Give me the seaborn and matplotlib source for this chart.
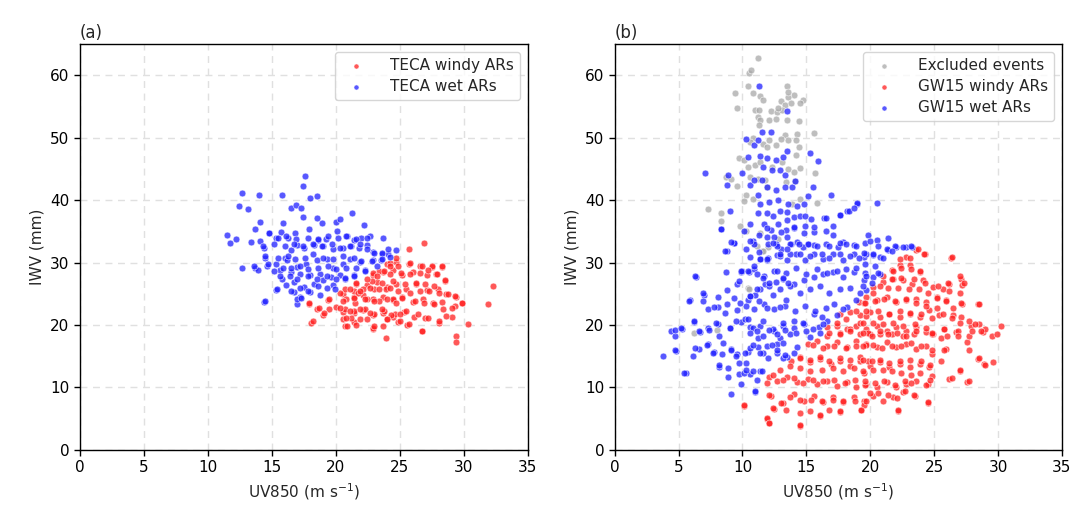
import numpy as np
import pandas as pd
import matplotlib
matplotlib.use("Agg")
import matplotlib.pyplot as plt
import seaborn as sns

# ---------------- Panel (a): TECA ----------------
teca_wet_x = [17.6, 17.4, 12.7, 14.0, 15.8, 18.0, 18.5, 12.4, 13.1, 16.5, 16.9, 17.3, 21.3, 14.1,
              15.9, 17.4, 18.5, 18.9, 20.0, 20.3, 22.2, 13.7, 11.5, 11.7, 12.2, 13.4, 14.1, 14.4,
              14.8, 15.3, 15.7, 16.3, 16.8, 17.9, 18.6, 19.2, 20.1, 20.9, 21.4, 22.0, 22.7, 23.7,
              12.7, 13.7, 13.9, 14.5, 14.6, 15.3, 15.6, 16.0, 16.5, 17.0, 17.5, 18.3, 19.0, 19.8,
              20.6, 21.2, 21.8, 22.4, 22.9, 23.6, 24.1, 24.7, 22.9, 23.5, 24.2, 16.2, 17.0, 17.7,
              18.5, 19.3, 19.8, 20.6, 21.1, 21.9, 22.3, 20.3, 19.6, 18.8, 18.0, 17.2, 16.5, 15.8,
              16.1, 15.3, 16.7, 17.5, 18.3, 19.0, 19.8, 20.7, 21.4, 16.7, 17.2, 18.0, 18.8, 17.0,
              14.4]
teca_wet_y = [43.85, 42.3, 41.2, 40.8, 40.9, 40.3, 40.6, 39.0, 38.5, 38.7, 39.2, 38.7, 38.0, 36.5,
              36.3, 37.3, 37.2, 36.4, 36.5, 36.9, 36.0, 35.3, 34.4, 33.2, 33.7, 33.3, 33.5, 32.4,
              34.8, 33.9, 34.9, 33.9, 34.8, 35.3, 33.6, 33.7, 35.1, 34.2, 33.6, 34.0, 34.3, 34.0,
              29.1, 29.2, 28.8, 30.8, 29.4, 29.7, 28.8, 30.8, 32.0, 32.8, 32.4, 32.8, 32.6, 32.2,
              32.4, 32.6, 32.4, 32.8, 31.7, 31.4, 31.3, 32.0, 30.4, 30.4, 30.9, 30.4, 29.3, 29.8,
              30.4, 30.6, 29.2, 29.8, 30.6, 30.1, 28.8, 28.0, 27.7, 28.2, 28.0, 28.2, 28.5, 27.4,
              26.4, 25.6, 26.9, 26.1, 26.6, 27.2, 26.4, 27.4, 28.0, 25.3, 24.5, 25.3, 24.8, 23.4,
              23.7]
teca_wet_x_more = [14.8, 15.5, 16.1, 16.9, 17.8, 18.6, 19.4, 20.2, 20.8, 21.6, 22.4, 14.3, 15.2, 16.0,
                   16.7, 17.4, 18.2, 18.9, 19.7, 20.3, 21.1, 21.9, 22.4, 23.0, 23.6, 24.1, 14.5, 15.5,
                   16.3, 16.8, 17.6, 18.2, 19.0, 19.8, 20.6, 21.4, 22.0, 22.8, 23.6, 23.2, 13.6, 14.7,
                   15.2, 15.9, 16.5, 17.2, 17.8, 18.6, 19.4, 20.0, 20.8, 21.6, 22.3, 15.6, 16.4, 17.0,
                   17.8, 18.5, 19.3, 20.0, 20.7, 21.4, 15.4, 16.5, 17.2, 17.8, 18.6, 19.3, 19.9, 17.0,
                   17.3, 14.5]
teca_wet_y_more = [34.8, 34.0, 34.2, 33.7, 34.0, 33.8, 34.2, 34.0, 34.2, 33.7, 34.0, 32.7, 33.0, 32.7,
                   33.0, 32.7, 33.0, 32.7, 33.0, 32.4, 32.7, 33.0, 32.1, 31.6, 31.5, 32.1, 31.0, 30.7,
                   31.0, 30.5, 30.7, 31.3, 30.7, 30.5, 31.0, 30.7, 30.2, 30.2, 30.5, 29.4, 29.4, 29.7,
                   28.6, 29.2, 29.2, 29.4, 28.9, 29.2, 29.4, 28.9, 29.2, 29.2, 28.6, 27.8, 27.8, 27.3,
                   27.8, 27.3, 27.8, 27.3, 27.5, 27.8, 25.7, 25.4, 25.9, 25.4, 26.2, 25.9, 25.7, 24.1,
                   24.4, 23.8]

teca_windy_x = [26.9, 25.7, 24.0, 24.7, 25.7, 26.6, 27.5, 28.3, 22.9, 23.7, 24.5, 25.2, 26.0, 27.1,
                27.8, 28.5, 32.3, 31.9, 21.6, 22.4, 23.2, 24.0, 24.7, 25.5, 26.3, 27.1, 28.0, 28.6,
                29.4, 29.9, 29.3, 20.6, 21.4, 22.1, 22.9, 23.7, 24.5, 25.2, 26.0, 26.8, 27.6, 28.3,
                17.9, 19.4, 20.0, 19.5, 18.5, 19.0, 18.1, 20.6, 21.4, 22.1, 22.9, 23.7, 24.5, 25.3,
                26.1, 27.0, 28.1, 29.1, 30.3, 20.6, 20.7, 21.4, 22.9, 23.7, 24.9, 25.6, 26.7, 23.9,
                29.4, 29.4]
teca_windy_y = [33.2, 32.2, 29.8, 30.1, 29.7, 29.4, 29.3, 29.3, 28.0, 28.5, 28.8, 28.0, 28.5, 28.0,
                28.1, 27.1, 26.2, 23.4, 26.5, 26.4, 26.9, 26.1, 26.5, 25.8, 26.5, 25.6, 25.8, 25.0,
                24.5, 23.5, 23.0, 25.0, 24.5, 24.8, 24.2, 24.5, 24.0, 24.5, 23.7, 24.2, 23.5, 23.7,
                23.4, 24.0, 22.9, 22.6, 22.6, 21.6, 20.4, 22.1, 21.9, 22.4, 21.6, 21.9, 21.3, 22.1,
                21.3, 21.2, 20.4, 21.3, 20.2, 20.9, 19.8, 20.5, 19.4, 19.9, 20.5, 20.0, 19.0, 17.9,
                18.3, 17.3]
teca_windy_x_more = [24.2, 24.9, 25.8, 26.7, 27.5, 28.3, 23.4, 24.2, 25.1, 25.8, 26.6, 27.2, 27.9, 28.5,
                     22.9, 22.8, 23.6, 24.5, 25.4, 26.3, 27.0, 27.7, 21.6, 20.7, 21.4, 22.1, 23.0, 23.9,
                     24.9, 25.8, 26.6, 27.3, 28.1, 28.8, 29.3, 29.9, 20.8, 21.5, 22.4, 23.4, 24.5, 25.2,
                     26.2, 26.9, 27.7, 28.4, 29.1, 20.7, 21.4, 22.3, 23.0, 23.8, 24.6, 25.5, 26.4, 27.2,
                     28.1, 28.6, 21.2, 21.9, 22.9, 24.0, 25.0, 25.7, 26.7, 20.9, 21.7, 22.4, 23.2, 23.8,
                     24.2, 24.7, 20.3, 21.1, 21.9, 22.7, 23.4, 24.2, 19.5, 20.6, 21.4, 22.3, 23.0, 24.0,
                     24.7, 17.9, 18.7, 19.1, 20.3, 21.1, 21.9, 22.7, 23.6, 24.3, 18.2, 20.8, 21.6, 22.4,
                     23.0, 24.0, 25.0]
teca_windy_y_more = [30.0, 29.4, 30.0, 29.4, 29.5, 29.4, 28.6, 28.1, 28.3, 28.1, 28.3, 28.8, 28.1, 27.2,
                     28.3, 27.0, 26.7, 27.0, 26.5, 26.7, 26.5, 26.2, 26.7, 25.7, 25.4, 25.7, 25.7, 25.7,
                     25.4, 25.1, 25.4, 25.4, 25.1, 24.9, 24.6, 23.6, 24.1, 23.5, 24.1, 23.8, 24.1, 24.3,
                     23.8, 23.5, 23.3, 22.5, 22.7, 22.5, 22.2, 22.5, 21.7, 22.2, 21.7, 22.2, 21.7, 21.1,
                     20.6, 21.4, 21.1, 20.9, 19.5, 20.9, 20.6, 20.1, 19.1, 19.9, 25.1, 27.3, 27.8, 28.6,
                     29.4, 30.7, 25.1, 25.7, 25.4, 25.9, 25.7, 25.9, 24.1, 23.8, 24.4, 24.1, 23.8, 24.1,
                     23.5, 23.6, 22.7, 21.9, 22.7, 22.2, 22.5, 21.9, 22.5, 21.6, 20.6, 21.1, 20.0, 20.9,
                     19.8, 20.9, 21.7]

# ---------------- Panel (b): GW15 ----------------
excl_x = [11.2, 10.5, 10.7, 9.4, 10.4, 10.8, 11.4, 11.6, 13.5, 14.0, 13.6, 13.6, 14.7, 14.5,
          13.0, 13.3, 13.8, 9.6, 11.0, 11.3, 12.2, 12.7, 13.1, 12.8, 11.2, 11.4, 12.1, 12.6,
          13.5, 14.4, 11.3, 15.6, 14.3, 13.3, 13.6, 13.0, 12.6, 12.1, 10.8, 10.6, 11.6, 11.9,
          14.2, 14.4, 9.7, 10.1, 14.2, 10.4, 11.0, 11.4, 12.3, 13.1, 13.6, 14.5, 14.0, 8.7,
          9.1, 15.7, 11.2, 10.6, 11.8, 13.4, 14.1, 9.6, 10.3, 10.1, 10.8, 11.9, 13.9, 14.5,
          15.8, 7.3, 8.3, 8.3, 9.8, 11.4, 10.3, 12.0, 12.8, 8.0, 10.9, 11.5, 10.4, 6.2,
          10.5, 11.1, 11.6]
excl_y = [62.8, 60.3, 60.8, 57.2, 58.2, 57.1, 56.6, 56.0, 58.3, 56.8, 56.5, 57.3, 56.0, 55.6,
          55.9, 55.3, 55.5, 54.7, 54.5, 54.5, 54.3, 54.1, 54.5, 54.8, 53.3, 52.9, 52.9, 53.0,
          52.8, 52.6, 52.1, 50.8, 50.6, 50.4, 49.7, 49.8, 48.8, 49.6, 49.9, 49.3, 49.0, 48.5,
          49.6, 48.5, 46.7, 46.5, 47.3, 45.3, 45.6, 46.1, 45.3, 46.1, 45.0, 45.2, 44.5, 43.7,
          43.4, 44.3, 43.4, 43.7, 43.2, 42.9, 43.0, 42.2, 40.9, 39.9, 40.1, 42.1, 39.4, 40.2,
          39.6, 38.5, 37.9, 36.6, 35.8, 34.8, 35.1, 32.5, 33.8, 19.2, 33.0, 31.8, 25.9, 18.7,
          25.8, 32.7, 31.8]

gw_wet_x = [11.3, 13.5, 10.3, 10.9, 11.2, 11.5, 12.2, 15.3, 15.9, 7.1, 8.9, 8.8, 10.0, 10.4,
            11.4, 11.9, 12.6, 13.2, 13.5, 11.6, 12.3, 12.9, 13.3, 10.6, 10.9, 11.5, 11.9, 12.6,
            13.3, 13.9, 14.1, 15.5, 15.1, 16.9, 9.0, 8.3, 11.2, 11.4, 12.1, 12.8, 13.6, 14.3,
            14.8, 12.9, 12.4, 11.9, 11.2, 10.6, 10.1, 13.5, 14.0, 14.5, 14.9, 15.4, 16.4, 17.1,
            17.6, 18.2, 19.0, 11.7, 12.2, 12.8, 13.4, 14.0, 14.9, 15.6, 16.5, 9.3, 10.8, 11.9,
            12.6, 13.5, 14.3, 15.1, 8.3, 9.3, 8.8, 10.3, 10.6, 11.3, 11.9, 12.7, 13.5, 14.2,
            14.9, 15.6, 16.3, 17.1, 17.9, 18.7, 19.5, 20.2, 20.8, 21.4, 22.0, 22.8, 23.3, 19.8,
            21.4, 20.5, 19.0, 20.5, 17.6, 18.3, 18.7, 16.5, 15.6, 14.8, 14.0, 13.5, 13.0, 12.5,
            11.9, 11.3, 17.1, 17.9, 18.7, 17.5, 16.5, 15.6, 14.7, 13.8, 13.0, 6.4, 5.9, 7.0,
            8.1, 8.8, 9.6, 9.9, 10.5, 10.9, 7.3, 8.1, 8.8, 9.6, 10.4, 11.0, 11.8, 12.6,
            13.2, 14.0, 14.8, 15.6, 16.3, 17.1, 17.9, 18.7, 19.5, 20.2, 20.8, 19.7, 18.9, 18.2,
            17.4, 16.6, 16.0, 15.3, 4.4, 4.7, 5.3, 4.8, 3.8, 5.6, 6.2, 6.7, 7.3, 8.1,
            9.0, 9.9, 10.6, 11.4, 12.5, 13.2, 14.0, 14.8, 15.6, 16.2, 6.1, 6.6, 7.3, 7.8,
            8.4, 9.1, 9.6, 10.4, 11.2, 11.9, 12.7, 13.5, 14.3, 8.2, 8.9, 9.7, 10.6, 11.4,
            9.9, 9.1, 11.0]
gw_wet_y = [58.2, 54.3, 49.8, 48.9, 49.6, 50.9, 50.9, 47.6, 46.2, 44.3, 44.1, 42.5, 44.4, 46.9,
            47.0, 46.8, 46.4, 46.9, 47.8, 45.3, 44.8, 44.9, 44.1, 42.5, 43.2, 43.2, 42.1, 41.6,
            42.1, 42.1, 43.0, 42.1, 40.7, 40.9, 38.2, 35.3, 40.9, 39.3, 39.7, 40.0, 39.4, 39.1,
            39.4, 38.3, 37.4, 37.9, 37.9, 36.2, 35.1, 38.1, 37.3, 37.5, 37.5, 37.0, 37.2, 35.9,
            37.6, 38.3, 39.4, 36.1, 35.2, 36.2, 35.2, 35.6, 35.9, 34.9, 35.1, 33.2, 33.4, 34.1,
            33.0, 34.1, 33.3, 33.0, 35.3, 33.2, 31.8, 32.2, 30.9, 31.7, 30.4, 31.2, 30.4, 31.4,
            30.4, 31.4, 30.6, 31.4, 30.4, 31.4, 30.9, 31.2, 30.9, 32.0, 32.5, 32.5, 32.5, 34.4,
            34.0, 33.6, 39.5, 39.6, 37.6, 38.3, 38.7, 37.2, 35.7, 34.7, 35.7, 36.8, 34.9, 34.1,
            35.5, 34.4, 34.4, 33.3, 32.8, 32.5, 33.0, 32.8, 32.5, 33.0, 32.2, 27.7, 24.0, 24.8,
            24.5, 25.6, 26.6, 28.5, 28.5, 29.0, 22.6, 22.9, 23.4, 22.4, 24.0, 24.8, 26.6, 26.9,
            27.4, 26.6, 27.2, 27.7, 28.2, 28.5, 27.7, 28.5, 27.2, 27.7, 28.2, 25.6, 24.0, 22.9,
            21.6, 20.7, 19.7, 18.1, 19.0, 18.2, 19.4, 15.9, 15.0, 12.4, 20.5, 18.9, 19.6, 20.2,
            19.5, 20.5, 19.7, 19.9, 19.1, 19.9, 20.7, 20.2, 21.8, 21.3, 15.1, 16.2, 17.0, 15.7,
            15.4, 16.2, 15.4, 15.7, 16.5, 16.7, 17.0, 14.9, 16.5, 13.3, 11.7, 12.2, 12.2, 12.7,
            10.5, 8.9, 9.3]
gw_wet_x_more = [10.9, 12.0, 12.7, 13.7, 14.4, 15.1, 15.8, 16.8, 17.6, 18.1, 18.9, 19.6, 11.4, 12.0,
                 12.9, 13.7, 14.5, 15.3, 16.2, 16.8, 17.6, 18.4, 19.1, 19.7, 10.0, 10.9, 11.7, 12.5,
                 13.4, 14.2, 15.0, 15.8, 16.6, 17.4, 18.1, 18.9, 19.6, 10.6, 11.4, 12.1, 12.9, 13.7,
                 14.5, 15.3, 16.1, 16.8, 17.6, 18.4, 19.2, 10.3, 10.9, 11.7, 12.5, 13.3, 14.1, 14.9,
                 15.7, 16.5, 17.2, 17.9, 10.2, 10.8, 11.6, 12.4, 13.2, 14.0, 14.7, 15.5, 16.3, 20.0,
                 20.6, 21.3, 21.9, 22.6, 23.2, 19.5, 20.2, 21.0, 21.7, 19.6, 20.4, 19.7, 20.6, 19.4,
                 20.1, 10.6, 11.2, 10.6, 11.6, 12.3, 12.9, 13.7, 13.2, 14.2, 15.0, 16.1, 12.7, 13.2,
                 14.0, 10.1, 10.8, 11.5, 11.1, 11.0, 10.3, 9.1, 8.6, 10.6, 11.4, 11.9, 12.4, 12.9,
                 13.5, 6.3, 8.7, 9.9, 10.4, 9.7, 11.1, 11.6, 12.1, 12.7, 13.2, 13.6, 6.9, 5.8,
                 6.9, 7.8, 8.6, 9.3, 9.8, 10.6, 11.1, 11.3, 11.9, 12.4, 12.9, 13.4, 4.7, 5.2,
                 6.2, 6.6, 7.4, 7.9, 8.2, 9.0, 9.5, 10.4, 11.1, 11.6, 12.1, 12.7, 13.3, 4.7,
                 6.3, 7.2, 7.7, 8.5, 9.1, 9.5, 10.2, 10.8, 11.4, 12.0, 12.7, 13.3, 5.4, 8.2,
                 8.9, 9.7, 10.3]
gw_wet_y_more = [32.9, 32.9, 32.6, 32.9, 32.9, 33.0, 32.6, 32.6, 33.2, 32.9, 32.6, 33.2, 30.5, 30.8,
                 31.0, 31.3, 31.3, 31.0, 31.3, 30.8, 31.3, 31.0, 30.8, 31.3, 28.6, 29.4, 27.8, 28.6,
                 28.3, 29.1, 28.1, 28.9, 28.3, 28.6, 28.9, 29.1, 28.3, 24.6, 25.7, 26.2, 25.7, 26.2,
                 25.1, 25.7, 26.2, 25.1, 25.7, 25.9, 25.1, 23.0, 22.5, 23.3, 22.5, 23.0, 22.2, 23.0,
                 22.2, 22.7, 23.3, 22.5, 20.9, 19.5, 20.6, 19.3, 20.4, 19.5, 20.4, 19.3, 20.1, 33.4,
                 32.6, 32.1, 32.7, 32.5, 32.6, 31.6, 31.3, 30.8, 31.8, 29.7, 29.4, 27.8, 28.3, 26.2,
                 26.7, 18.7, 17.9, 16.3, 15.5, 16.8, 17.9, 18.5, 17.1, 18.7, 19.0, 18.7, 15.5, 14.7,
                 15.5, 12.3, 12.6, 12.6, 11.2, 9.4, 13.9, 33.3, 31.9, 33.4, 30.5, 30.5, 33.2, 31.3,
                 32.1, 27.8, 28.5, 28.6, 28.6, 27.0, 28.1, 27.5, 26.7, 28.6, 27.5, 26.7, 25.1, 23.9,
                 23.9, 22.9, 21.9, 24.3, 23.5, 24.6, 25.7, 23.8, 22.7, 24.8, 22.9, 24.0, 19.2, 19.5,
                 20.7, 19.0, 19.2, 20.3, 18.2, 19.5, 20.6, 20.9, 19.0, 18.2, 19.2, 18.5, 19.2, 16.0,
                 16.3, 16.8, 15.5, 17.1, 16.0, 15.0, 15.5, 16.8, 15.5, 14.7, 16.0, 15.2, 12.4, 13.6,
                 13.1, 13.9, 12.8]

gw_windy_x = [23.6, 24.3, 22.8, 22.3, 21.7, 23.1, 23.9, 26.3, 20.2, 21.0, 21.8, 22.6, 23.3, 24.1,
              24.9, 25.7, 26.2, 27.1, 27.2, 19.1, 19.7, 20.5, 21.3, 22.0, 22.8, 23.6, 24.4, 25.2,
              25.9, 27.2, 28.4, 17.6, 18.4, 19.2, 20.0, 20.8, 21.5, 22.3, 23.1, 23.9, 24.6, 25.4,
              26.5, 27.1, 16.6, 17.4, 18.2, 18.9, 19.7, 20.5, 21.3, 22.0, 22.8, 23.6, 24.4, 24.9,
              25.8, 26.7, 27.9, 28.5, 29.5, 30.2, 29.9, 28.8, 15.1, 15.8, 16.6, 17.4, 18.2, 18.9,
              19.7, 20.5, 21.3, 22.0, 22.8, 23.6, 24.4, 24.8, 25.9, 27.6, 28.4, 28.9, 29.6, 13.8,
              14.5, 15.3, 16.1, 16.9, 17.6, 18.4, 19.2, 20.0, 20.8, 21.5, 22.3, 23.1, 23.9, 24.6,
              27.0, 27.6, 26.2, 12.1, 12.7, 13.5, 14.3, 15.1, 15.8, 16.6, 17.4, 18.2, 18.9, 19.7,
              20.5, 21.3, 22.0, 22.8, 23.6, 24.5, 12.2, 13.2, 14.0, 14.8, 15.6, 16.3, 17.1, 17.9,
              18.7, 19.5, 20.2, 21.0, 21.8, 22.6, 23.5, 24.5, 10.1, 11.9, 12.1, 12.5, 14.5, 16.1,
              17.6, 19.3, 22.2]
gw_windy_y = [32.0, 31.3, 30.9, 29.6, 28.8, 29.6, 28.5, 30.7, 26.1, 26.9, 27.4, 27.2, 26.6, 27.2,
              26.1, 25.8, 26.6, 27.4, 26.4, 23.7, 24.5, 24.0, 24.5, 23.7, 24.0, 24.2, 23.7, 24.5,
              24.0, 23.4, 23.3, 21.8, 22.1, 21.6, 22.1, 21.3, 21.8, 21.3, 21.8, 21.3, 22.4, 21.6,
              21.6, 21.3, 19.7, 19.9, 19.4, 19.9, 19.4, 19.9, 19.1, 19.7, 19.1, 19.7, 18.9, 18.6,
              19.4, 18.9, 19.9, 20.1, 18.2, 19.9, 18.6, 18.9, 17.0, 17.5, 16.7, 17.3, 16.5, 17.5,
              17.0, 16.5, 17.3, 16.5, 17.0, 16.2, 16.7, 15.4, 16.2, 17.3, 14.6, 13.8, 14.1, 14.3,
              14.9, 14.1, 14.6, 13.8, 14.3, 13.5, 14.3, 13.5, 14.1, 13.3, 13.8, 13.3, 13.8, 13.3,
              12.7, 10.9, 11.4, 11.7, 11.1, 11.7, 10.9, 11.4, 10.6, 11.1, 10.3, 10.9, 10.1, 10.6,
              10.1, 10.9, 10.1, 10.6, 11.1, 10.6, 8.6, 7.5, 8.9, 7.9, 8.7, 7.6, 8.4, 7.6,
              8.4, 7.9, 8.7, 7.9, 8.4, 9.3, 8.7, 7.5, 7.1, 5.0, 4.3, 6.6, 3.9, 5.5,
              6.0, 6.4, 6.3]
gw_windy_x_more = [17.4, 18.1, 18.9, 19.5, 17.6, 18.4, 19.2, 19.7, 16.6, 23.7, 24.2, 26.4, 22.3, 23.1,
                   23.9, 23.2, 22.4, 21.8, 21.0, 21.7, 22.4, 23.4, 24.3, 21.4, 22.2, 23.0, 23.8, 24.5,
                   25.3, 26.1, 27.0, 27.3, 20.8, 20.2, 26.2, 27.0, 25.2, 25.9, 26.5, 27.1, 28.5, 19.6,
                   20.4, 21.1, 21.9, 22.8, 23.6, 24.4, 25.2, 19.7, 20.6, 21.5, 22.3, 23.1, 24.0, 24.8,
                   25.7, 26.4, 27.0, 27.7, 28.2, 29.0, 19.4, 20.2, 21.0, 21.8, 22.6, 23.5, 24.4, 25.8,
                   26.9, 27.7, 20.0, 20.8, 21.7, 22.6, 23.4, 24.8, 16.8, 17.6, 18.4, 19.2, 19.8, 15.5,
                   16.3, 17.2, 18.1, 18.9, 19.7, 14.5, 15.3, 16.1, 16.8, 17.6, 18.4, 19.2, 19.8, 12.9,
                   13.7, 14.5, 15.3, 16.2, 17.1, 17.9, 18.7, 19.5, 11.9, 12.4, 13.2, 14.0, 14.7, 15.5,
                   16.3, 17.2, 18.0, 18.8, 19.6, 12.1, 13.0, 13.7, 14.5, 15.4, 16.2, 17.1, 17.9, 18.8,
                   19.5, 12.4, 13.4, 14.5, 15.3, 16.1, 16.8, 17.6, 11.9, 12.1, 14.5, 10.1, 19.4, 20.1,
                   20.8, 21.4, 22.1, 22.8, 23.6, 24.8, 25.5, 26.0, 26.9, 28.0, 28.7, 19.4, 20.2, 20.9,
                   21.7, 22.4, 23.2, 24.0, 24.8, 25.8, 27.7, 28.5, 29.0, 19.4, 20.1, 20.8, 21.5, 22.3,
                   23.1, 24.0, 24.7, 25.5, 19.4, 20.2, 21.0, 21.7, 22.4, 23.2, 23.9, 24.8, 26.4, 27.0,
                   27.7, 19.6, 20.4, 21.1, 21.9, 22.7, 23.2, 24.4, 24.7, 20.0, 20.6, 21.4, 22.1, 22.7,
                   23.4, 24.5, 19.7, 19.3, 22.2]
gw_windy_y_more = [20.4, 20.9, 22.2, 23.5, 18.7, 19.3, 20.4, 21.4, 18.2, 32.1, 31.4, 30.9, 30.5, 30.8,
                   28.6, 28.9, 29.1, 28.6, 27.8, 27.3, 27.5, 27.3, 26.7, 25.9, 25.9, 25.7, 25.7, 25.1,
                   26.2, 26.8, 27.9, 26.7, 26.2, 25.1, 25.4, 25.1, 24.3, 23.8, 22.7, 23.5, 23.4, 23.5,
                   23.8, 24.1, 23.8, 24.1, 23.5, 23.0, 22.7, 22.2, 22.2, 21.7, 22.2, 21.9, 21.7, 21.1,
                   21.7, 21.1, 20.3, 20.6, 20.1, 19.3, 20.3, 20.3, 20.1, 20.3, 19.8, 20.1, 19.5, 19.3,
                   19.0, 18.2, 18.5, 18.5, 18.5, 18.2, 18.5, 18.5, 18.7, 18.5, 19.0, 18.5, 18.7, 16.8,
                   16.3, 16.6, 16.3, 16.6, 16.8, 14.7, 14.4, 14.9, 14.2, 14.7, 14.4, 14.9, 14.2, 12.8,
                   13.4, 13.1, 12.6, 12.8, 13.1, 12.6, 13.1, 12.3, 10.7, 12.0, 11.2, 11.5, 10.7, 11.2,
                   11.0, 11.2, 10.7, 11.2, 10.4, 8.8, 7.5, 8.5, 8.0, 8.0, 7.8, 8.0, 7.8, 7.8,
                   7.2, 6.7, 6.4, 5.9, 6.2, 5.6, 6.4, 6.2, 5.1, 4.3, 4.0, 7.2, 18.7, 18.2,
                   19.0, 18.5, 18.7, 18.2, 19.0, 18.7, 17.9, 18.2, 18.2, 19.0, 19.0, 16.6, 16.8, 16.3,
                   16.6, 16.6, 17.1, 16.6, 16.0, 16.0, 16.0, 14.7, 13.6, 14.4, 14.2, 14.4, 13.9, 14.2,
                   14.4, 14.2, 13.6, 14.2, 12.6, 12.8, 12.8, 12.6, 12.3, 12.0, 12.3, 11.8, 11.5, 12.8,
                   11.0, 11.0, 10.7, 11.0, 10.4, 11.0, 10.7, 10.4, 11.2, 9.1, 9.1, 8.8, 8.3, 9.4,
                   8.8, 7.6, 7.8, 6.4, 6.4]

# ---------------- Plot ----------------
sns.set_theme(style="white")
plt.rcParams['font.family'] = ['DejaVu Sans']

fig = plt.figure(figsize=(10.88, 5.09), dpi=100)
ax1 = fig.add_axes([0.0735, 0.116, 0.4115, 0.7976])
ax2 = fig.add_axes([0.565, 0.116, 0.411, 0.7976])

RED = "#ff2020"
BLUE = "#2020ff"
GRAY = "#a8a8a8"
kw = dict(s=24, alpha=0.75, edgecolor="white", linewidth=0.5)

sns.scatterplot(x=teca_windy_x + teca_windy_x_more, y=teca_windy_y + teca_windy_y_more,
                color=RED, label="TECA windy ARs", ax=ax1, **kw)
sns.scatterplot(x=teca_wet_x + teca_wet_x_more, y=teca_wet_y + teca_wet_y_more,
                color=BLUE, label="TECA wet ARs", ax=ax1, **kw)

sns.scatterplot(x=excl_x, y=excl_y, color=GRAY, label="Excluded events", ax=ax2, **kw)
sns.scatterplot(x=gw_windy_x + gw_windy_x_more, y=gw_windy_y + gw_windy_y_more,
                color=RED, label="GW15 windy ARs", ax=ax2, **kw)
sns.scatterplot(x=gw_wet_x + gw_wet_x_more, y=gw_wet_y + gw_wet_y_more,
                color=BLUE, label="GW15 wet ARs", ax=ax2, **kw)

for ax, tag in [(ax1, "(a)"), (ax2, "(b)")]:
    ax.set_xlim(0, 35)
    ax.set_ylim(0, 65)
    ax.set_xticks(np.arange(0, 36, 5))
    ax.set_yticks(np.arange(0, 61, 10))
    ax.grid(True, linestyle=(0, (5, 4)), color="#e0e0e0", linewidth=1.0)
    ax.set_axisbelow(True)
    for sp in ax.spines.values():
        sp.set_color("black")
        sp.set_linewidth(1.0)
    ax.tick_params(axis="both", which="both", direction="out", length=4, width=1,
                   labelsize=11, colors="black", bottom=True, left=True)
    ax.set_xlabel("UV850 (m s$^{-1}$)", fontsize=11)
    ax.set_ylabel("IWV (mm)", fontsize=11)
    ax.set_title(tag, loc="left", fontsize=12, pad=4)
    leg = ax.legend(loc="upper right", fontsize=11, markerscale=0.75, frameon=True,
                    handletextpad=1.2, borderpad=0.4, labelspacing=0.4)
    leg.get_frame().set_edgecolor("#cccccc")

fig.savefig("out.png", dpi=100)
